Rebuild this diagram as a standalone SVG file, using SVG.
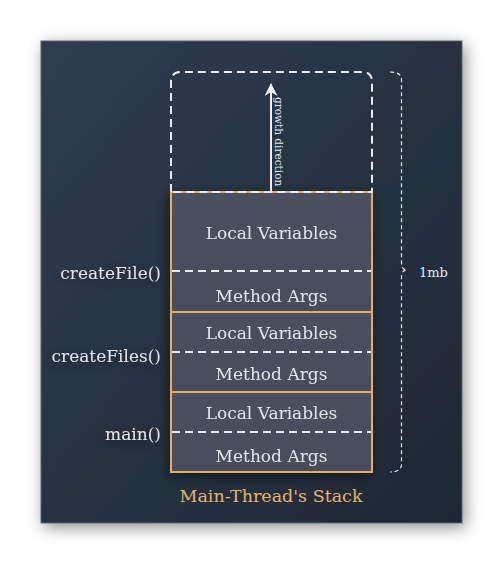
<svg xmlns="http://www.w3.org/2000/svg" width="503" height="564" viewBox="0 0 503 564">
  <defs>
    <linearGradient id="bg" x1="0" y1="0" x2="1" y2="1">
      <stop offset="0" stop-color="#2e3d50"/>
      <stop offset="1" stop-color="#1d2834"/>
    </linearGradient>
    <linearGradient id="frameFill" x1="0" y1="0" x2="0" y2="1">
      <stop offset="0" stop-color="#4b505e"/>
      <stop offset="1" stop-color="#474c5a"/>
    </linearGradient>
    <filter id="panelShadow" x="-10%" y="-10%" width="125%" height="125%">
      <feGaussianBlur in="SourceAlpha" stdDeviation="8"/>
      <feOffset dx="3" dy="4" result="b"/>
      <feComponentTransfer><feFuncA type="linear" slope="0.45"/></feComponentTransfer>
      <feMerge><feMergeNode/><feMergeNode in="SourceGraphic"/></feMerge>
    </filter>
    <filter id="boxShadow" x="-20%" y="-20%" width="140%" height="140%">
      <feGaussianBlur in="SourceAlpha" stdDeviation="6"/>
      <feOffset dx="-2" dy="3" result="b"/>
      <feComponentTransfer><feFuncA type="linear" slope="0.5"/></feComponentTransfer>
      <feMerge><feMergeNode/><feMergeNode in="SourceGraphic"/></feMerge>
    </filter>
    <marker id="arrowHead" viewBox="0 0 13 13" refX="12" refY="6.5" markerWidth="13" markerHeight="13" markerUnits="userSpaceOnUse" orient="auto">
      <path d="M13,6.5 L0,0 L4,6.5 L0,13 Z" fill="#eef0f4"/>
    </marker>
  </defs>
  <style>
    .t { font-family: "DejaVu Serif", "Liberation Serif", serif; fill: #e4e6ec; }
    .c { text-anchor: middle; font-size: 17px; }
    .lbl { text-anchor: end; font-size: 17px; }
    .frame { fill: url(#frameFill); stroke: #e9ad62; stroke-width: 2; }
    .split { stroke: #e8eaf0; stroke-width: 2; stroke-dasharray: 8 5; fill: none; }
    .growth { stroke: #e8eaf0; stroke-width: 2; stroke-dasharray: 8 5; fill: none; }
    .brace { stroke: #e8eaf0; stroke-width: 1.2; stroke-dasharray: 4 3; fill: none; }
  </style>

  <rect x="41" y="41" width="421" height="482" fill="url(#bg)" stroke="#59636f" stroke-width="1" filter="url(#panelShadow)"/>

  <g id="stack" filter="url(#boxShadow)">
    <g id="frame-createFile">
      <rect class="frame" x="171" y="192" width="201" height="120"/>
      <line class="split" x1="172" y1="271" x2="371" y2="271"/>
      <text class="t c" x="271.5" y="239">Local Variables</text>
      <text class="t c" x="271.5" y="302">Method Args</text>
      <text class="t lbl" x="161" y="279">createFile()</text>
    </g>
    <g id="frame-createFiles">
      <rect class="frame" x="171" y="312" width="201" height="80"/>
      <line class="split" x1="172" y1="352" x2="371" y2="352"/>
      <text class="t c" x="271.5" y="339">Local Variables</text>
      <text class="t c" x="271.5" y="380">Method Args</text>
      <text class="t lbl" x="161" y="362">createFiles()</text>
    </g>
    <g id="frame-main">
      <rect class="frame" x="171" y="392" width="201" height="80"/>
      <line class="split" x1="172" y1="432" x2="371" y2="432"/>
      <text class="t c" x="271.5" y="419">Local Variables</text>
      <text class="t c" x="271.5" y="462">Method Args</text>
      <text class="t lbl" x="161" y="440">main()</text>
    </g>
  </g>

  <g id="growth-region">
    <path class="growth" d="M171,192 L171,82 Q171,72 181,72 L362,72 Q372,72 372,82 L372,192 Z"/>
  </g>

  <g id="connectors">
    <line x1="271" y1="192" x2="271" y2="84" stroke="#eef0f4" stroke-width="2" marker-end="url(#arrowHead)"/>
    <text class="t" font-size="10.5" transform="translate(275,97) rotate(90)">growth direction</text>
  </g>

  <g id="size-brace">
    <path class="brace" d="M390,72 Q401.5,72 401.5,80 L401.5,263 Q401.5,270 407,270 Q401.5,270 401.5,277 L401.5,464 Q401.5,472 390,472"/>
    <text class="t" font-size="13" x="419" y="277">1mb</text>
  </g>

  <g id="title">
    <text class="c" x="271" y="502" style="font-family: 'DejaVu Serif', 'Liberation Serif', serif; font-size: 17.5px; fill: #e9b36e;">Main-Thread's Stack</text>
  </g>
</svg>
